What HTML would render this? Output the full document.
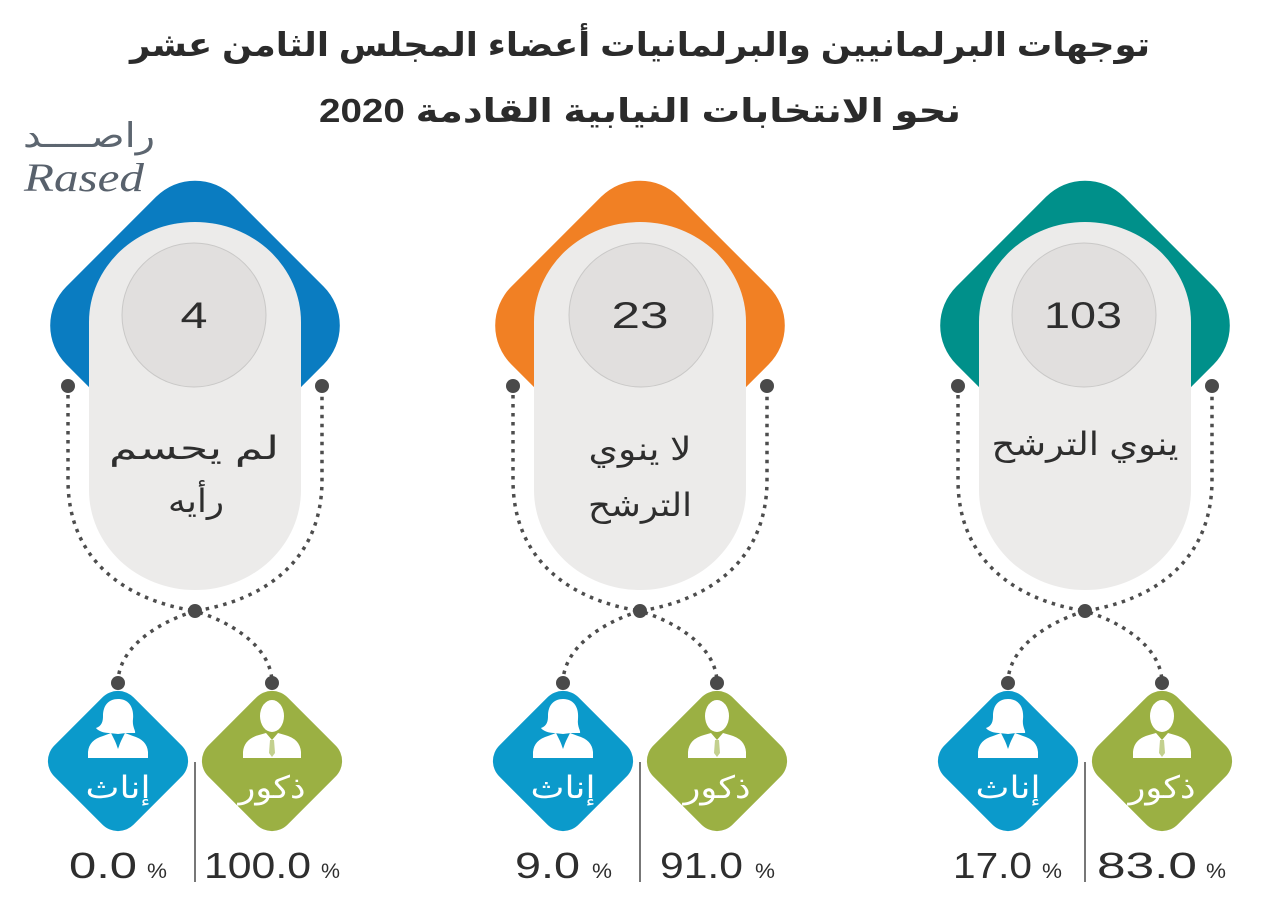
<!DOCTYPE html>
<html><head><meta charset="utf-8"><style>
html,body{margin:0;padding:0;background:#fff;}
svg{display:block;}
.ar{font-family:"Liberation Sans","DejaVu Sans",sans-serif;}
.num{font-family:"Liberation Sans","DejaVu Sans",sans-serif;fill:#2e2e2e;}
</style></head><body>
<svg width="1280" height="919" viewBox="0 0 1280 919" xmlns="http://www.w3.org/2000/svg">
<rect width="1280" height="919" fill="#ffffff"/>

<!-- Title -->
<text class="ar" x="640" y="56" text-anchor="middle" font-size="33" font-weight="bold" fill="#2b2b2b" textLength="1020" lengthAdjust="spacingAndGlyphs">توجهات البرلمانيين والبرلمانيات أعضاء المجلس الثامن عشر</text>
<text class="ar" x="640" y="122" text-anchor="middle" font-size="33" font-weight="bold" fill="#2b2b2b" textLength="642" lengthAdjust="spacingAndGlyphs">نحو الانتخابات النيابية القادمة 2020</text>

<!-- Logo -->
<text class="ar" x="89" y="147" text-anchor="middle" font-size="34" fill="#5d6670" textLength="132" lengthAdjust="spacingAndGlyphs">راصــــد</text>
<text x="84" y="191" text-anchor="middle" font-family="Liberation Serif, serif" font-style="italic" font-size="40" fill="#58616c" textLength="120" lengthAdjust="spacingAndGlyphs">Rased</text>

<defs>
  <g id="male">
    <ellipse cx="0" cy="-45" rx="12" ry="16" fill="#fff"/>
    <path d="M-29,-3 L-29,-9 Q-28,-22 -13,-26 L-6,-28 L0,-21 L6,-28 L13,-26 Q28,-22 29,-9 L29,-3 Z" fill="#fff"/>
    <path d="M-2,-21 L2,-21 L3,-8 L0,-4 L-3,-8 Z" fill="#9bb043" opacity="0.6"/>
  </g>
  <g id="female">
    <path d="M0,-62 C12,-62 16,-52 15,-42 C14,-34 18,-30 17,-28 L8,-28 L0,-27 L-9,-28 C-14,-28 -20,-30 -22,-33 C-16,-35 -15,-40 -15,-45 C-15,-56 -9,-62 0,-62 Z" fill="#fff"/>
    <path d="M-30,-3 L-30,-9 Q-29,-21 -15,-25 L-7,-28 L0,-14 L7,-28 L15,-25 Q29,-21 30,-9 L30,-3 Z" fill="#fff"/>
    <path d="M-5,-26 L5,-26 L0,-12 Z" fill="#0b9acb"/>
  </g>
  <g id="links">
    <path d="M-127,386 L-127,480 C-127,560 -70,600 0,611 C70,600 127,560 127,480 L127,386" fill="none" stroke="#4d4d4d" stroke-width="3.5" stroke-dasharray="3.5 5.5"/>
    <path d="M-77,683 C-77,650 -42,624 0,611 C42,624 77,650 77,683" fill="none" stroke="#4d4d4d" stroke-width="3.5" stroke-dasharray="3.5 5.5"/>
    <g fill="#4a4a4a"><circle cx="-127" cy="386" r="7"/><circle cx="127" cy="386" r="7"/><circle cx="0" cy="611" r="7"/><circle cx="-77" cy="683" r="7"/><circle cx="77" cy="683" r="7"/></g>
  </g>
</defs>

<!-- left cx=195 -->
<g>
  <rect x="76.5" y="207" width="237" height="237" rx="55" fill="#0a7cc1" transform="rotate(45 195 325.5)"/>
  <path d="M89,322 A106 100 0 0 1 301,322 L301,490 A106 100 0 0 1 89,490 Z" fill="#ecebea"/>
  <circle cx="194" cy="315" r="72" fill="#e1dfde" stroke="#c9c8c7" stroke-width="1"/>
  <text class="num" x="194" y="328" text-anchor="middle" font-size="37" textLength="27" lengthAdjust="spacingAndGlyphs">4</text>
  <text class="ar" x="194" y="459" text-anchor="middle" font-size="32" fill="#2e2e2e" textLength="170" lengthAdjust="spacingAndGlyphs">لم يحسم</text>
  <text class="ar" x="196" y="512" text-anchor="middle" font-size="32" fill="#2e2e2e" textLength="56" lengthAdjust="spacingAndGlyphs">رأيه</text>
  <use href="#links" x="195" y="0"/>
  <rect x="62" y="705" width="112" height="112" rx="22" fill="#0b9acb" transform="rotate(45 118 761)"/>
  <rect x="216" y="705" width="112" height="112" rx="22" fill="#9bb043" transform="rotate(45 272 761)"/>
  <use href="#female" x="118" y="761"/>
  <use href="#male" x="272" y="761"/>
  <text class="ar" x="118" y="798" text-anchor="middle" font-size="31" fill="#fff" textLength="65" lengthAdjust="spacingAndGlyphs">إناث</text>
  <text class="ar" x="272" y="798" text-anchor="middle" font-size="31" fill="#fff" textLength="67" lengthAdjust="spacingAndGlyphs">ذكور</text>
  <line x1="195" y1="762" x2="195" y2="882" stroke="#555" stroke-width="1.6"/>
  <text class="num" x="69" y="878" font-size="36" textLength="68" lengthAdjust="spacingAndGlyphs">0.0</text>
  <text class="num" x="147" y="878" font-size="21" textLength="20" lengthAdjust="spacingAndGlyphs">%</text>
  <text class="num" x="204" y="878" font-size="36" textLength="107" lengthAdjust="spacingAndGlyphs">100.0</text>
  <text class="num" x="321" y="878" font-size="21" textLength="19" lengthAdjust="spacingAndGlyphs">%</text>
</g>

<!-- middle cx=640 -->
<g>
  <rect x="521.5" y="207" width="237" height="237" rx="55" fill="#f18024" transform="rotate(45 640 325.5)"/>
  <path d="M534,322 A106 100 0 0 1 746,322 L746,490 A106 100 0 0 1 534,490 Z" fill="#ecebea"/>
  <circle cx="641" cy="315" r="72" fill="#e1dfde" stroke="#c9c8c7" stroke-width="1"/>
  <text class="num" x="640" y="328" text-anchor="middle" font-size="37" textLength="57" lengthAdjust="spacingAndGlyphs">23</text>
  <text class="ar" x="640" y="460" text-anchor="middle" font-size="32" fill="#2e2e2e" textLength="103" lengthAdjust="spacingAndGlyphs">لا ينوي</text>
  <text class="ar" x="640" y="516" text-anchor="middle" font-size="32" fill="#2e2e2e" textLength="104" lengthAdjust="spacingAndGlyphs">الترشح</text>
  <use href="#links" x="640" y="0"/>
  <rect x="507" y="705" width="112" height="112" rx="22" fill="#0b9acb" transform="rotate(45 563 761)"/>
  <rect x="661" y="705" width="112" height="112" rx="22" fill="#9bb043" transform="rotate(45 717 761)"/>
  <use href="#female" x="563" y="761"/>
  <use href="#male" x="717" y="761"/>
  <text class="ar" x="563" y="798" text-anchor="middle" font-size="31" fill="#fff" textLength="65" lengthAdjust="spacingAndGlyphs">إناث</text>
  <text class="ar" x="717" y="798" text-anchor="middle" font-size="31" fill="#fff" textLength="67" lengthAdjust="spacingAndGlyphs">ذكور</text>
  <line x1="640" y1="762" x2="640" y2="882" stroke="#555" stroke-width="1.6"/>
  <text class="num" x="515" y="878" font-size="36" textLength="65" lengthAdjust="spacingAndGlyphs">9.0</text>
  <text class="num" x="592" y="878" font-size="21" textLength="20" lengthAdjust="spacingAndGlyphs">%</text>
  <text class="num" x="660" y="878" font-size="36" textLength="83" lengthAdjust="spacingAndGlyphs">91.0</text>
  <text class="num" x="755" y="878" font-size="21" textLength="20" lengthAdjust="spacingAndGlyphs">%</text>
</g>

<!-- right cx=1085 -->
<g>
  <rect x="966.5" y="207" width="237" height="237" rx="55" fill="#00908a" transform="rotate(45 1085 325.5)"/>
  <path d="M979,322 A106 100 0 0 1 1191,322 L1191,490 A106 100 0 0 1 979,490 Z" fill="#ecebea"/>
  <circle cx="1084" cy="315" r="72" fill="#e1dfde" stroke="#c9c8c7" stroke-width="1"/>
  <text class="num" x="1083" y="328" text-anchor="middle" font-size="37" textLength="78" lengthAdjust="spacingAndGlyphs">103</text>
  <text class="ar" x="1085" y="455" text-anchor="middle" font-size="32" fill="#2e2e2e" textLength="187" lengthAdjust="spacingAndGlyphs">ينوي الترشح</text>
  <use href="#links" x="1085" y="0"/>
  <rect x="952" y="705" width="112" height="112" rx="22" fill="#0b9acb" transform="rotate(45 1008 761)"/>
  <rect x="1106" y="705" width="112" height="112" rx="22" fill="#9bb043" transform="rotate(45 1162 761)"/>
  <use href="#female" x="1008" y="761"/>
  <use href="#male" x="1162" y="761"/>
  <text class="ar" x="1008" y="798" text-anchor="middle" font-size="31" fill="#fff" textLength="65" lengthAdjust="spacingAndGlyphs">إناث</text>
  <text class="ar" x="1162" y="798" text-anchor="middle" font-size="31" fill="#fff" textLength="67" lengthAdjust="spacingAndGlyphs">ذكور</text>
  <line x1="1085" y1="762" x2="1085" y2="882" stroke="#555" stroke-width="1.6"/>
  <text class="num" x="953" y="878" font-size="36" textLength="79" lengthAdjust="spacingAndGlyphs">17.0</text>
  <text class="num" x="1042" y="878" font-size="21" textLength="20" lengthAdjust="spacingAndGlyphs">%</text>
  <text class="num" x="1097" y="878" font-size="36" textLength="100" lengthAdjust="spacingAndGlyphs">83.0</text>
  <text class="num" x="1206" y="878" font-size="21" textLength="20" lengthAdjust="spacingAndGlyphs">%</text>
</g>
</svg>
</body></html>
